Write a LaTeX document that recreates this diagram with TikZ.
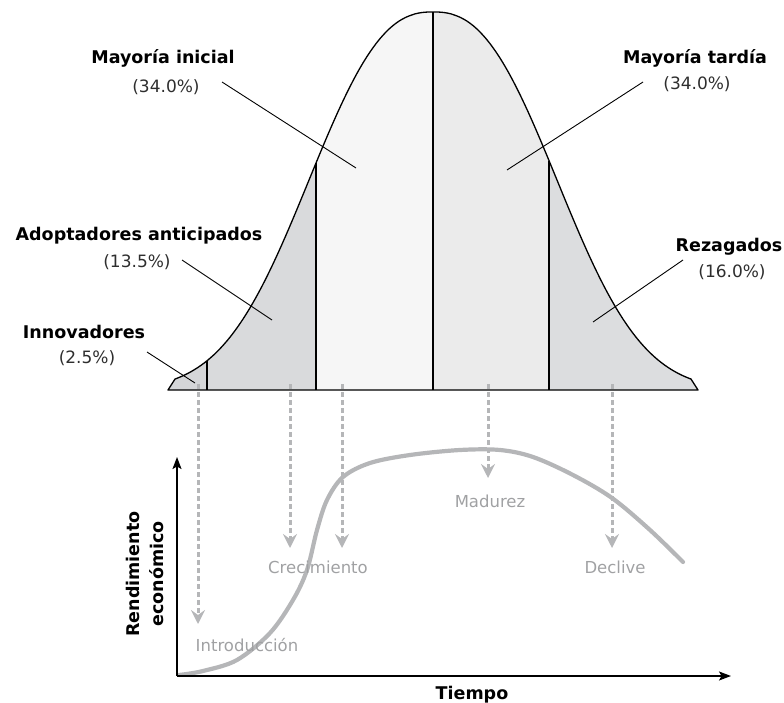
\documentclass[tikz,border=0pt]{standalone}
\usepackage{fontspec}
\setmainfont{DejaVu Sans}
\usetikzlibrary{arrows.meta}

\definecolor{tailgray}{HTML}{D5D6D8}
\definecolor{earlygray}{HTML}{D9DADC}
\definecolor{earlymaj}{HTML}{F6F6F6}
\definecolor{latemaj}{HTML}{EBEBEB}
\definecolor{laggray}{HTML}{DCDDDF}
\definecolor{phasegray}{HTML}{B5B6B8}
\definecolor{phasetext}{HTML}{A0A1A3}
\definecolor{pcttext}{HTML}{2E2E2E}

\tikzset{
  grouptitle/.style={font=\fontsize{17.5}{21}\selectfont\bfseries, text=black, inner sep=0pt},
  grouppct/.style={font=\fontsize{17}{20}\selectfont, text=pcttext, inner sep=0pt},
  phaselabel/.style={font=\fontsize{16.5}{19}\selectfont, text=phasetext, inner sep=0pt},
  axislabel/.style={font=\fontsize{17.5}{24}\selectfont\bfseries, text=black, inner sep=0pt},
  leader/.style={draw=black, line width=0.9pt},
  divider/.style={draw=black, line width=1.3pt},
  phasearrow/.style={draw=phasegray, line width=3pt, dash pattern=on 5pt off 3pt,
    -{Stealth[length=14pt,width=14pt,inset=5pt]}},
  axisline/.style={draw=black, line width=1.4pt, -{Stealth[length=12pt,width=9pt,inset=2.5pt]}},
  lifecurve/.style={draw=phasegray, line width=4.2pt, line cap=round, line join=round}
}

\begin{document}
\begin{tikzpicture}[x=1pt, y=-1pt,
  declare function={bell(\t)=390-378*exp(-((abs(\t-433)+0.01)/154)^2.45);}]
\useasboundingbox (0,0) rectangle (784,703);

% adopter bands, clipped to the bell
\begin{scope}
  \clip (168,390) -- plot[domain=175:691, samples=160] (\x,{bell(\x)}) -- (698,390) -- cycle;
  \fill[tailgray]  (160,0) rectangle (207,392);
  \fill[earlygray] (207,0) rectangle (316,392);
  \fill[earlymaj]  (316,0) rectangle (433,392);
  \fill[latemaj]   (433,0) rectangle (549,392);
  \fill[laggray]   (549,0) rectangle (702,392);
\end{scope}

% band boundaries
\draw[divider] (207,390) -- (207,{bell(207)});
\draw[divider] (316,390) -- (316,{bell(316)});
\draw[divider] (433,390) -- (433,12);
\draw[divider] (549,390) -- (549,{bell(549)});

% phase arrows (start just inside the bell)
\coordinate (s1) at (198,384);
\coordinate (s2) at (290,384);
\coordinate (s3) at (342,384);
\coordinate (s4) at (488,384);
\coordinate (s5) at (612,384);
\coordinate (t1) at (198,624);
\coordinate (t2) at (290,548);
\coordinate (t3) at (342,548);
\coordinate (t4) at (488,478);
\coordinate (t5) at (612,548);
\draw[phasearrow] (s1) -- (t1);
\draw[phasearrow] (s2) -- (t2);
\draw[phasearrow] (s3) -- (t3);
\draw[phasearrow] (s4) -- (t4);
\draw[phasearrow] (s5) -- (t5);

% bell outline
\draw[line width=1.3pt, line join=round]
  (168,390) -- plot[domain=175:691, samples=160] (\x,{bell(\x)}) -- (698,390) -- cycle;

% group labels
\node[grouptitle] (mi)  at (163,58)  {Mayoría inicial};
\node[grouppct]   (mip) at (166,87)  {(34.0\%)};
\node[grouptitle] (mt)  at (695,58)  {Mayoría tardía};
\node[grouppct]   (mtp) at (697,84)  {(34.0\%)};
\node[grouptitle] (aa)  at (139,236) {Adoptadores anticipados};
\node[grouppct]   (aap) at (137,262) {(13.5\%)};
\node[grouptitle] (rz)  at (729,247) {Rezagados};
\node[grouppct]   (rzp) at (732,272) {(16.0\%)};
\node[grouptitle] (in)  at (84,332)  {Innovadores};
\node[grouppct]   (inp) at (87,358)  {(2.5\%)};

% leader lines
\coordinate (mi0) at (222,82);  \coordinate (mi1) at (356,168);
\coordinate (mt0) at (643,82);  \coordinate (mt1) at (507,170);
\coordinate (aa0) at (182,260); \coordinate (aa1) at (272,320);
\coordinate (rz0) at (683,260); \coordinate (rz1) at (593,322);
\coordinate (in0) at (147,352); \coordinate (in1) at (195,383);
\draw[leader] (mi0) -- (mi1);
\draw[leader] (mt0) -- (mt1);
\draw[leader] (aa0) -- (aa1);
\draw[leader] (rz0) -- (rz1);
\draw[leader] (in0) -- (in1);

% life-cycle chart
\coordinate (origin) at (177,676);
\coordinate (ytop) at (177,457);
\coordinate (xend) at (731,676);
\draw[lifecurve] plot[smooth, tension=0.55] coordinates {
  (179,675) (203,671) (237,660) (270,633) (293,600) (307,570) (317,530)
  (327,500) (343,477) (370,463) (410,455) (460,450) (500,450) (533,457)
  (573,475) (612,498) (650,530) (683,562)};
\draw[axisline] (origin) -- (ytop);
\draw[axisline] (origin) -- (xend);

\node[phaselabel] (intro) at (247,645) {Introducción};
\node[phaselabel] (crec)  at (318,567) {Crecimiento};
\node[phaselabel] (mad)   at (490,501) {Madurez};
\node[phaselabel] (decl)  at (615,567) {Declive};

\node[axislabel, anchor=base] (tiempo) at (472,699) {Tiempo};
\node[axislabel, rotate=90, align=center] (rend) at (145,574) {Rendimiento\\económico};
\end{tikzpicture}
\end{document}
